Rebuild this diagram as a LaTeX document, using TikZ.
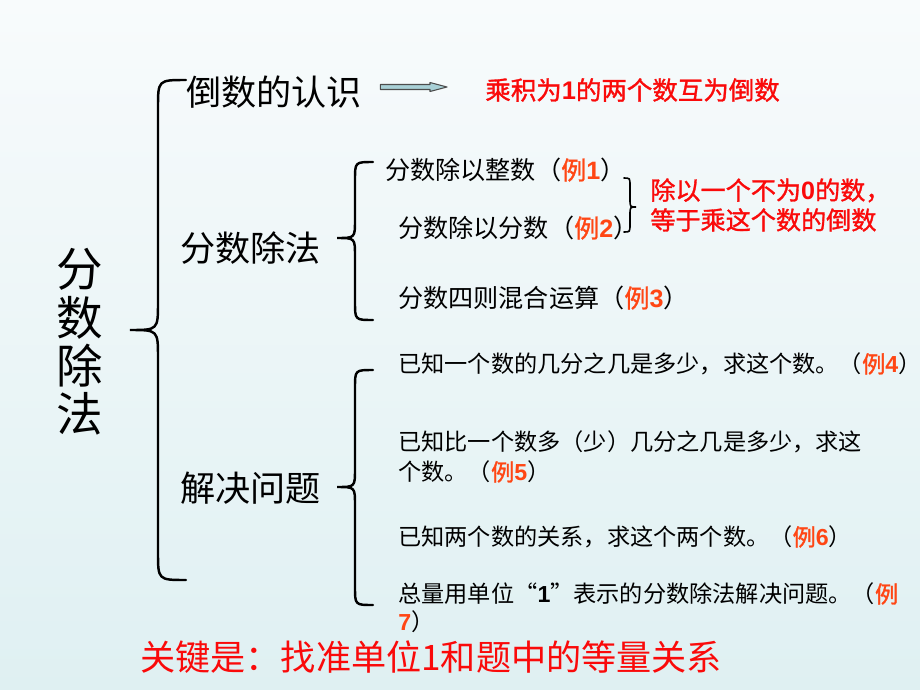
\documentclass[tikz,border=0pt]{standalone}
\usepackage{fontspec}
\setmainfont{Noto Sans CJK SC}
\newfontfamily\heavy{Noto Sans CJK SC}[FakeBold=1.2]
\newfontfamily\numfont{Liberation Sans}
\usetikzlibrary{calc}

\definecolor{lired}{RGB}{255,70,20}
\definecolor{keyred}{RGB}{250,10,10}
\definecolor{bgtop}{RGB}{248,251,252}
\definecolor{bgbot}{RGB}{223,240,242}
\definecolor{arrfill}{RGB}{168,208,214}

\newcommand{\bnum}[1]{{\numfont\bfseries #1}}
\newcommand{\li}[1]{{\color{lired}\heavy 例\bnum{#1}}}
% end x, line x, tip x, top y, tip y, bottom y, radius
\newcommand{\curly}[8][]{%
\draw[bracestroke,#1] (#2,#5) .. controls (#3,#5) .. (#3,#5+#8) -- (#3,#6-#8)
  .. controls (#3,#6) .. (#4,#6) .. controls (#3,#6) .. (#3,#6+#8)
  -- (#3,#7-#8) .. controls (#3,#7) .. (#2,#7);}

\tikzset{
  bracestroke/.style={line width=1.4pt,line cap=round},
  txt/.style={inner sep=0pt,anchor=west},
  redtxt/.style={txt,text=keyred},
  blockarrow/.style={draw=black!70,fill=arrfill,line width=0.6pt,line join=round}
}

\begin{document}
\begin{tikzpicture}[x=0.02cm,y=-0.02cm]
\useasboundingbox (0,0) rectangle (920,690);
\shade[top color=bgtop,bottom color=bgbot] (0,0) rectangle (920,690);

\node[align=center,font=\fontsize{26.5}{27.5}\selectfont] (title) at (80,342) {分\\数\\除\\法};

\curly{186}{158}{130}{80}{330}{580}{28}
\curly{373}{355}{337}{162}{238}{320}{18}
\curly{373}{355}{337}{370}{487}{605}{18}
\curly[line width=0.9pt]{624}{630}{636}{178}{207}{232}{8}

\node[txt,font=\fontsize{20}{24}\selectfont] (recip) at (186,92) {倒数的认识};
\node[redtxt,font=\fontsize{14.5}{17}\heavy] (def) at (485,90) {乘积为\bnum{1}的两个数互为倒数};

\coordinate (arrs) at ($(recip.east)+(18,-5)$);
\coordinate (arre) at ($(def.west)+(-38,-3)$);
\draw[blockarrow] ($(arrs)+(0,-2.5)$) -- ($(arre)+(-17,-2.5)$) -- ($(arre)+(-17,-4.5)$) -- (arre)
  -- ($(arre)+(-17,4.5)$) -- ($(arre)+(-17,2.5)$) -- ($(arrs)+(0,2.5)$) -- cycle;

\node[txt,font=\fontsize{20}{24}\selectfont] (div) at (180,248) {分数除法};
\node[txt,font=\fontsize{14.3}{17}\selectfont] (d1) at (385,170) {分数除以整数（\li{1}）};
\node[txt,font=\fontsize{14.3}{17}\selectfont] (d2) at (398,228) {分数除以分数（\li{2}）};
\node[txt,font=\fontsize{14.3}{17}\selectfont] (d3) at (398,298) {分数四则混合运算（\li{3}）};
\node[redtxt,align=left,font=\fontsize{14.3}{17}\heavy] (rule) at (650,205) {除以一个不为\bnum{0}的数，\\等于乘这个数的倒数};

\node[txt,font=\fontsize{20}{24}\selectfont] (solve) at (180,488) {解决问题};
\node[txt,font=\fontsize{13.2}{17}\selectfont] (s1) at (398,364) {已知一个数的几分之几是多少，求这个数。（\li{4}）};
\node[txt,align=left,font=\fontsize{13.2}{17}\selectfont] (s2) at (398,457) {已知比一个数多（少）几分之几是多少，求这\\个数。（\li{5}）};
\node[txt,font=\fontsize{13.2}{17}\selectfont] (s3) at (398,537) {已知两个数的关系，求这个两个数。（\li{6}）};
\node[txt,align=left,font=\fontsize{13.2}{16}\selectfont] (s4) at (398,608) {总量用单位“\bnum{1}”表示的分数除法解决问题。（{\color{lired}\heavy 例}\\{\color{lired}\bnum{7}}）};

\node[redtxt,font=\fontsize{20}{24}\selectfont] (key) at (140,657) {关键是：找准单位1和题中的等量关系};
\end{tikzpicture}
\end{document}
